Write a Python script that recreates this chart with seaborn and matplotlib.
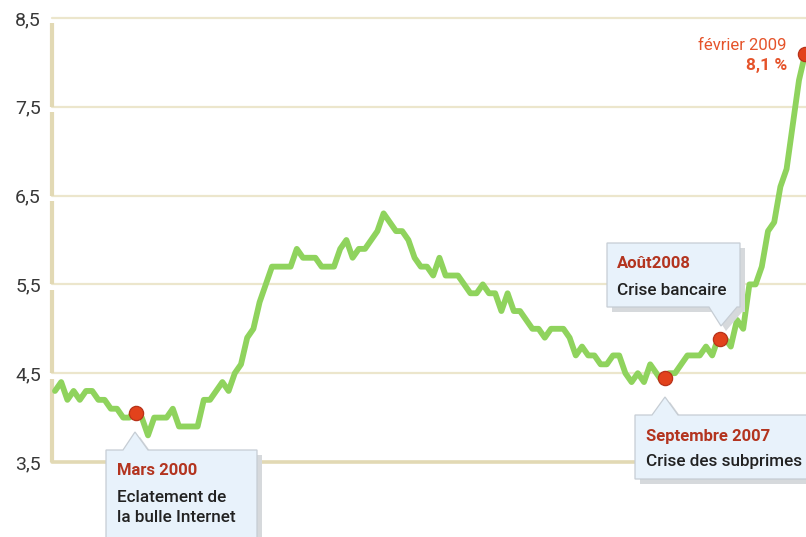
import matplotlib
matplotlib.use("Agg")
import matplotlib.pyplot as plt
import seaborn as sns
import numpy as np
import pandas as pd
from matplotlib.patches import Polygon

# ---------------- data ----------------
# monthly unemployment rate, Jan 1999 .. Feb 2009 (month index 0..121)
rate_1999 = [4.3, 4.4, 4.2, 4.3, 4.2, 4.3, 4.3, 4.2, 4.2, 4.1, 4.1, 4.0]
rate_2000 = [4.0, 4.1, 4.0, 3.8, 4.0, 4.0, 4.0, 4.1, 3.9, 3.9, 3.9, 3.9]
rate_2001 = [4.2, 4.2, 4.3, 4.4, 4.3, 4.5, 4.6, 4.9, 5.0, 5.3, 5.5, 5.7]
rate_2002 = [5.7, 5.7, 5.7, 5.9, 5.8, 5.8, 5.8, 5.7, 5.7, 5.7, 5.9, 6.0]
rate_2003 = [5.8, 5.9, 5.9, 6.0, 6.1, 6.3, 6.2, 6.1, 6.1, 6.0, 5.8, 5.7]
rate_2004 = [5.7, 5.6, 5.8, 5.6, 5.6, 5.6, 5.5, 5.4, 5.4, 5.5, 5.4, 5.4]
rate_2005 = [5.2, 5.4, 5.2, 5.2, 5.1, 5.0, 5.0, 4.9, 5.0, 5.0, 5.0, 4.9]
rate_2006 = [4.7, 4.8, 4.7, 4.7, 4.6, 4.6, 4.7, 4.7, 4.5, 4.4, 4.5, 4.4]
rate_2007 = [4.6, 4.5, 4.4, 4.5, 4.5, 4.6, 4.7, 4.7, 4.7, 4.8, 4.7, 4.9]
rate_2008 = [4.9, 4.8, 5.1, 5.0, 5.5, 5.5, 5.7, 6.1, 6.2, 6.6, 6.8, 7.3]
rate_2009 = [7.8, 8.1]

rates = (rate_1999 + rate_2000 + rate_2001 + rate_2002 + rate_2003 + rate_2004
         + rate_2005 + rate_2006 + rate_2007 + rate_2008 + rate_2009)
months = list(range(len(rates)))

# highlighted events (month index, value)
event_x = [13.06, 98.4, 107.3, 121.0]
event_y = [4.05, 4.45, 4.89, 8.1]
event_titles = ["Mars 2000", "Septembre 2007", "Août2008"]
event_texts = ["Eclatement de\nla bulle Internet", "Crise des subprimes", "Crise bancaire"]
last_label = "février 2009"
last_value = "8,1 %"

y_ticks = [3.5, 4.5, 5.5, 6.5, 7.5, 8.5]
y_tick_labels = ["3,5", "4,5", "5,5", "6,5", "7,5", "8,5"]

df = pd.DataFrame({"month": months, "rate": rates})
ev = pd.DataFrame({"x": event_x, "y": event_y})

# ---------------- style ----------------
sns.set_theme(style="white")
plt.rcParams["font.family"] = ["Roboto", "DejaVu Sans"]

W, H = 806, 537
fig = plt.figure(figsize=(W / 100, H / 100), dpi=100)

px0, step = 55.0, 6.2            # pixel of month 0 and pixels per month
ax_left, ax_right, ax_top, ax_bot = 52, 806, 18, 462
ax = fig.add_axes([ax_left / W, 1 - ax_bot / H, (ax_right - ax_left) / W, (ax_bot - ax_top) / H])
ax.set_xlim((ax_left - px0) / step, (ax_right - px0) / step)
ax.set_ylim(3.5, 8.5)

grid_col = "#ece6cc"
axis_col = "#e2d9b4"
for t in y_ticks[1:]:
    ax.axhline(t, color=grid_col, lw=1.6, zorder=1, clip_on=False)
ax.axhline(3.5, color=axis_col, lw=2.6, zorder=1, clip_on=False)
# broken left axis
for t in y_ticks[1:]:
    ax.plot([0, 0], [t - 0.06, t - 1.0], transform=ax.get_yaxis_transform(),
            color=axis_col, lw=3, solid_capstyle="butt", clip_on=False, zorder=1)

for s in ax.spines.values():
    s.set_visible(False)
ax.set_xticks([])
ax.set_yticks(y_ticks)
ax.set_yticklabels(y_tick_labels)
ax.tick_params(axis="y", length=0, pad=8, labelsize=14, labelcolor="#383838")

sns.lineplot(data=df, x="month", y="rate", ax=ax, color="#8fd35d", lw=4.2,
             zorder=3, solid_joinstyle="round", solid_capstyle="round")
sns.scatterplot(data=ev, x="x", y="y", ax=ax, s=105, color="#e2421c",
                edgecolor="#b8321a", linewidth=0.9, zorder=6, clip_on=False)
ax.set_xlabel("")
ax.set_ylabel("")


# ---------------- callout boxes (pixel layout) ----------------
def P(pts):
    return [(x / W, 1 - y / H) for x, y in pts]


def callout(pts, shadow=(5, 5)):
    sh = [(x + shadow[0], y + shadow[1]) for x, y in pts]
    fig.add_artist(Polygon(P(sh), closed=True, transform=fig.transFigure,
                           facecolor="#d6d9dc", edgecolor="none", zorder=7))
    fig.add_artist(Polygon(P(pts), closed=True, transform=fig.transFigure,
                           facecolor="#e8f2fb", edgecolor="#c6cdd4", lw=0.9, zorder=8))


def ftext(x, y, s, **kw):
    fig.text(x / W, 1 - y / H, s, zorder=9, **kw)


title_col = "#b3341f"
body_col = "#222222"
bw = "medium"

# Mars 2000
callout([(106, 450), (123, 450), (135, 432), (148, 450), (257, 450), (257, 560), (106, 560)])
ftext(117, 475, event_titles[0], fontsize=12, fontweight="bold", color=title_col, va="baseline")
ftext(117, 502, event_texts[0].split("\n")[0], fontsize=12.3, fontweight=bw, color=body_col, va="baseline")
ftext(117, 522, event_texts[0].split("\n")[1], fontsize=12.3, fontweight=bw, color=body_col, va="baseline")

# Septembre 2007
callout([(635, 415), (652, 415), (665, 397), (678, 415), (830, 415), (830, 479), (635, 479)])
ftext(646, 441, event_titles[1], fontsize=12, fontweight="bold", color=title_col, va="baseline")
ftext(646, 466, event_texts[1], fontsize=12.3, fontweight=bw, color=body_col, va="baseline")

# Août 2008
callout([(607, 243), (740, 243), (740, 307), (737, 307), (721, 326), (709, 307), (607, 307)])
ftext(617, 268, event_titles[2], fontsize=12, fontweight="bold", color=title_col, va="baseline")
ftext(617, 295, event_texts[2], fontsize=12.3, fontweight=bw, color=body_col, va="baseline")

# last value label
ftext(787, 50, last_label, fontsize=12, color="#e5532a", ha="right", va="baseline")
ftext(787, 70, last_value, fontsize=12.5, fontweight="bold", color="#e5532a", ha="right", va="baseline")

fig.savefig("out.png", dpi=100)
